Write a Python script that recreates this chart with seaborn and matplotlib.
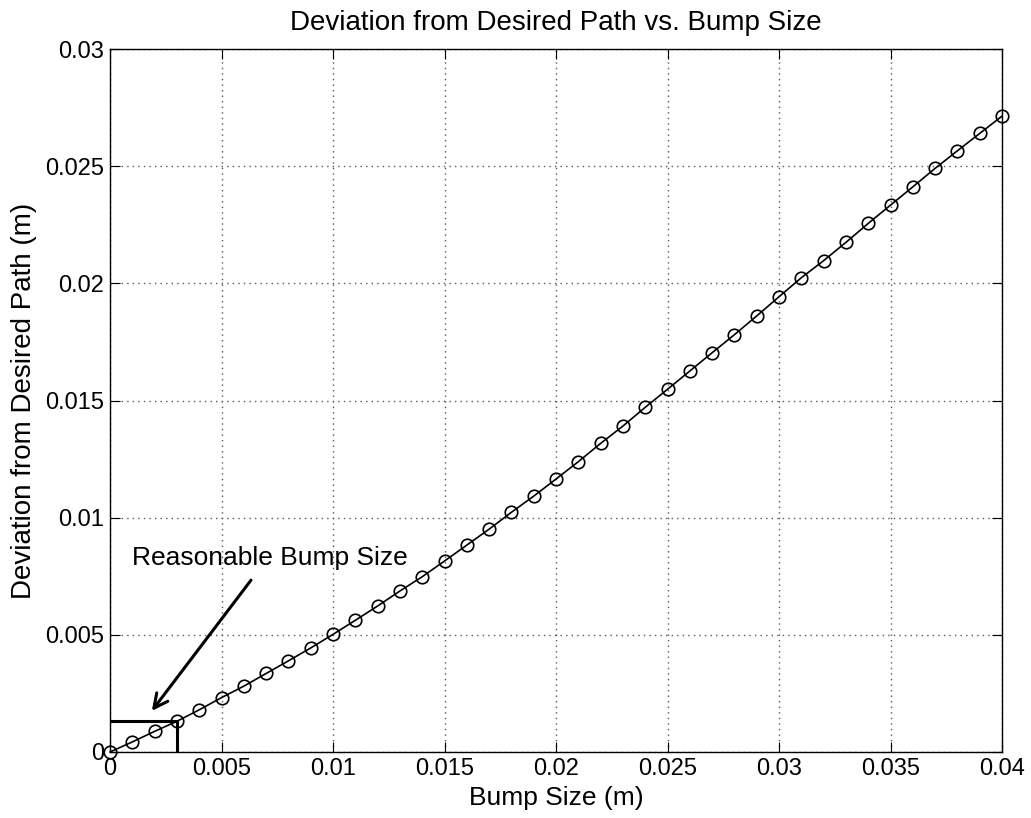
import numpy as np
import pandas as pd
import matplotlib
matplotlib.use("Agg")
import matplotlib.pyplot as plt
from matplotlib.ticker import FuncFormatter, MultipleLocator
import seaborn as sns

# data
bump_size = [i / 1000 for i in range(41)]
deviation = [
    0.0, 0.00043, 0.00088, 0.00131, 0.0018, 0.00232, 0.00281, 0.00335,
    0.00389, 0.00444, 0.00502, 0.00562, 0.00623, 0.00687, 0.00748, 0.00815,
    0.00883, 0.00951, 0.01023, 0.01092, 0.01165, 0.01239, 0.01317, 0.01391,
    0.01471, 0.01548, 0.01626, 0.01704, 0.01781, 0.01861, 0.01943, 0.02024,
    0.02097, 0.02175, 0.02256, 0.02334, 0.02412, 0.02491, 0.02566, 0.0264,
    0.02714,
]
reasonable_bump = 0.003
reasonable_dev = 0.00131
annot_text = "Reasonable Bump Size"

df = pd.DataFrame({"bump": bump_size, "dev": deviation})

sns.set_style("ticks")
plt.rcParams["font.family"] = ["Liberation Sans", "DejaVu Sans"]
plt.rcParams["text.color"] = "black"
plt.rcParams["axes.labelcolor"] = "black"
plt.rcParams["xtick.color"] = "black"
plt.rcParams["ytick.color"] = "black"

fig = plt.figure(figsize=(10.31, 8.18), dpi=100)
ax = fig.add_axes([0.1067, 0.0807, 0.8652, 0.8593])

sns.lineplot(
    data=df, x="bump", y="dev", ax=ax,
    color="black", linewidth=1.2,
    marker="o", markersize=9, markerfacecolor="none",
    markeredgecolor="black", markeredgewidth=1.2, clip_on=False, zorder=3,
)

# reasonable bump size marker lines
ax.plot([0, reasonable_bump], [reasonable_dev, reasonable_dev], color="black", lw=2.2)
ax.plot([reasonable_bump, reasonable_bump], [0, reasonable_dev], color="black", lw=2.2)

ax.annotate(
    "", xy=(0.0018, 0.00166), xytext=(0.0064, 0.00743),
    arrowprops=dict(arrowstyle="->", color="black", lw=2.2, mutation_scale=25),
)
ax.text(0.00717, 0.0083, annot_text, ha="center", va="center", fontsize=19)

ax.set_xlim(0, 0.04)
ax.set_ylim(0, 0.03)
ax.xaxis.set_major_locator(MultipleLocator(0.005))
ax.yaxis.set_major_locator(MultipleLocator(0.005))
fmt = FuncFormatter(lambda v, p: f"{v:g}")
ax.xaxis.set_major_formatter(fmt)
ax.yaxis.set_major_formatter(fmt)

ax.grid(True, linestyle=(0, (1, 3)), color="#555555", linewidth=1.0)
ax.tick_params(direction="in", top=True, right=True, length=7,
               labelsize=17, color="black", pad=4)
for s in ax.spines.values():
    s.set_color("black")
    s.set_linewidth(1.0)

ax.set_title("Deviation from Desired Path vs. Bump Size", fontsize=20, pad=14)
ax.set_xlabel("Bump Size (m)", fontsize=19, labelpad=5)
ax.set_ylabel("Deviation from Desired Path (m)", fontsize=20, labelpad=6)

fig.savefig("out.png", dpi=100)
